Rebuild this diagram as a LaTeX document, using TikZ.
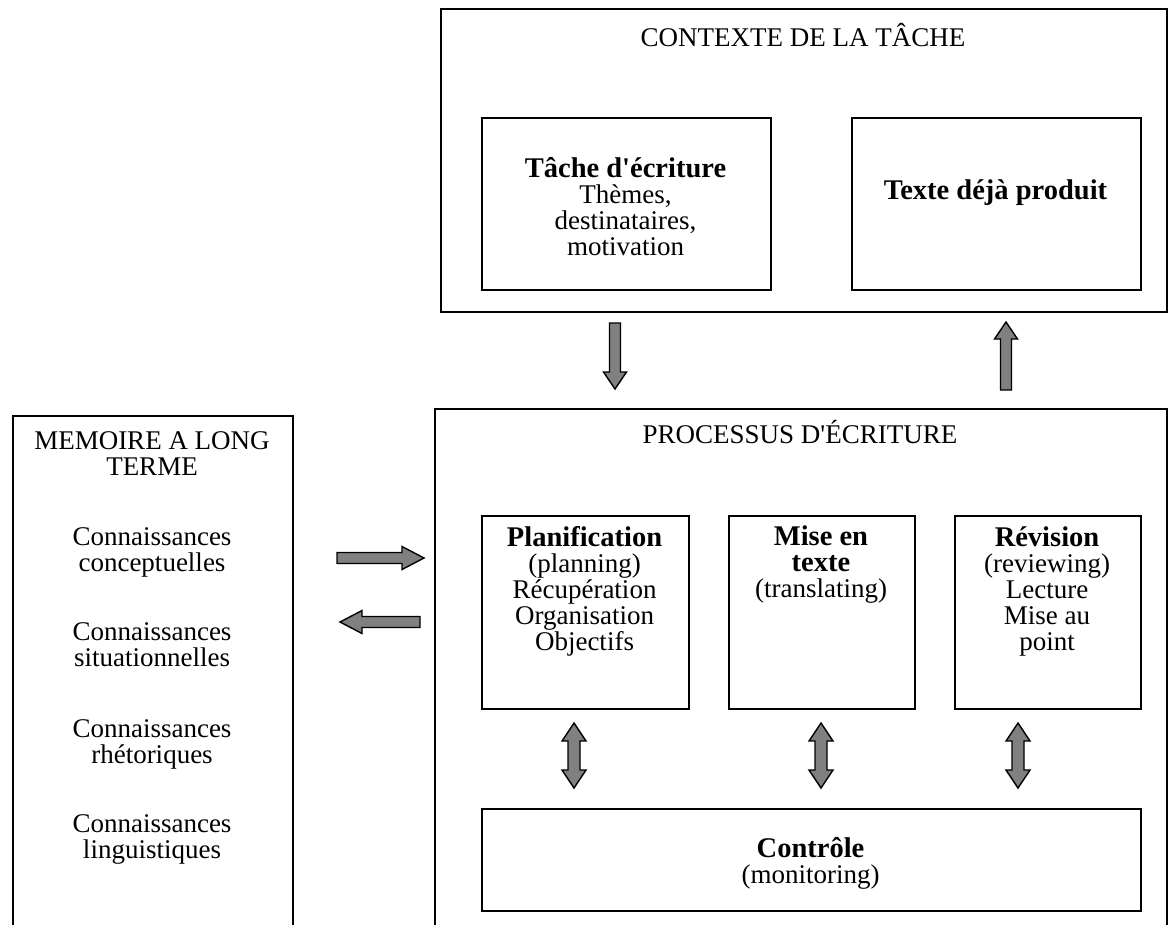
\documentclass[tikz,border=0pt]{standalone}
\usepackage{fontspec}
\setmainfont{Liberation Serif}
\newcommand\fsz{\fontsize{27}{26}\selectfont\lineskiplimit=-100pt\relax}
\newcommand\bfx[1]{{\fontsize{28.5}{26}\selectfont\bfseries #1}}
\newcommand\apo{\textquotesingle}
\definecolor{arrowgray}{HTML}{808080}
\newcommand\arrowdown[3]{%
  \draw[blk] ({#1-5.5},#2) -- ({#1+5.5},#2) -- ({#1+5.5},{#3-17}) -- ({#1+11.5},{#3-17}) -- (#1,#3) -- ({#1-11.5},{#3-17}) -- ({#1-5.5},{#3-17}) -- cycle;}
\newcommand\arrowup[3]{%
  \draw[blk] ({#1-5.5},#2) -- ({#1+5.5},#2) -- ({#1+5.5},{#3+17}) -- ({#1+11.5},{#3+17}) -- (#1,#3) -- ({#1-11.5},{#3+17}) -- ({#1-5.5},{#3+17}) -- cycle;}
\newcommand\arrowright[3]{%
  \draw[blk] (#2,{#1-5.5}) -- ({#3-22},{#1-5.5}) -- ({#3-22},{#1-11.5}) -- (#3,#1) -- ({#3-22},{#1+11.5}) -- ({#3-22},{#1+5.5}) -- (#2,{#1+5.5}) -- cycle;}
\newcommand\arrowleft[3]{%
  \draw[blk] (#2,{#1-5.5}) -- ({#3+22},{#1-5.5}) -- ({#3+22},{#1-11.5}) -- (#3,#1) -- ({#3+22},{#1+11.5}) -- ({#3+22},{#1+5.5}) -- (#2,{#1+5.5}) -- cycle;}
\newcommand\arrowboth[3]{%
  \draw[blk] (#1,#2) -- ({#1+12},{#2+18}) -- ({#1+6},{#2+18}) -- ({#1+6},{#3-18}) -- ({#1+12},{#3-18}) -- (#1,#3) -- ({#1-12},{#3-18}) -- ({#1-6},{#3-18}) -- ({#1-6},{#2+18}) -- ({#1-12},{#2+18}) -- cycle;}
\begin{document}
\begin{tikzpicture}[x=1pt,y=-1pt,
  box/.style={draw, line width=1.8pt, inner sep=0pt, anchor=north west},
  txt/.style={align=center, inner sep=0pt, font=\fsz},
  blk/.style={draw=black, fill=arrowgray, line width=1.4pt, line join=miter}]
\useasboundingbox (0,0) rectangle (1174,924);
% outer boxes
\node[box, minimum width=726, minimum height=303] (ctx) at (440,8) {};
\node[box, minimum width=732, minimum height=540] (proc) at (434,408) {};
\node[box, minimum width=280, minimum height=540] (mem) at (12,415) {};
% inner boxes
\node[box, minimum width=289, minimum height=172] (tache) at (481,117) {};
\node[box, minimum width=289, minimum height=172] (texte) at (851,117) {};
\node[box, minimum width=207, minimum height=193] (plan) at (481,515) {};
\node[box, minimum width=186, minimum height=193] (mise) at (728,515) {};
\node[box, minimum width=186, minimum height=193] (rev) at (954,515) {};
\node[box, minimum width=659, minimum height=102] (ctrl) at (481,808) {};
% titles and texts
\node[txt, anchor=base] (ctxt) at (803,46) {CONTEXTE DE LA TÂCHE};
\node[txt, anchor=base] (proct) at (800,443) {PROCESSUS D\apo ÉCRITURE};
\node[txt, anchor=north] (tachet) at (625.5,157) {\strut\bfx{Tâche d\apo écriture}\\Thèmes,\\destinataires,\\motivation};
\node[txt, anchor=base] (textet) at (995.5,199) {\bfx{Texte déjà produit}};
\node[txt, anchor=north] (memt) at (152,431) {\strut MEMOIRE A LONG\\TERME};
\node[txt, anchor=north] (m1) at (152,527) {\strut Connaissances\\conceptuelles};
\node[txt, anchor=north] (m2) at (152,622) {\strut Connaissances\\situationnelles};
\node[txt, anchor=north] (m3) at (152,719) {\strut Connaissances\\rhétoriques};
\node[txt, anchor=north] (m4) at (152,814) {\strut Connaissances\\linguistiques};
\node[txt, anchor=north] (plant) at (584.5,526) {\strut\bfx{Planification}\\(planning)\\Récupération\\Organisation\\Objectifs};
\node[txt, anchor=north] (miset) at (821,526) {\strut\bfx{Mise en}\\\bfx{texte}\\(translating)};
\node[txt, anchor=north] (revt) at (1047,526) {\strut\bfx{Révision}\\(reviewing)\\Lecture\\Mise au\\point};
\node[txt, anchor=north] (ctrlt) at (810.5,837) {\strut\bfx{Contrôle}\\(monitoring)};
% block arrows
\arrowdown{615}{323}{389}
\arrowup{1006}{390}{322}
\arrowright{558}{337}{424}
\arrowleft{622}{420}{340}
\arrowboth{574}{723}{788}
\arrowboth{821}{723}{788}
\arrowboth{1018}{723}{788}
\end{tikzpicture}
\end{document}
